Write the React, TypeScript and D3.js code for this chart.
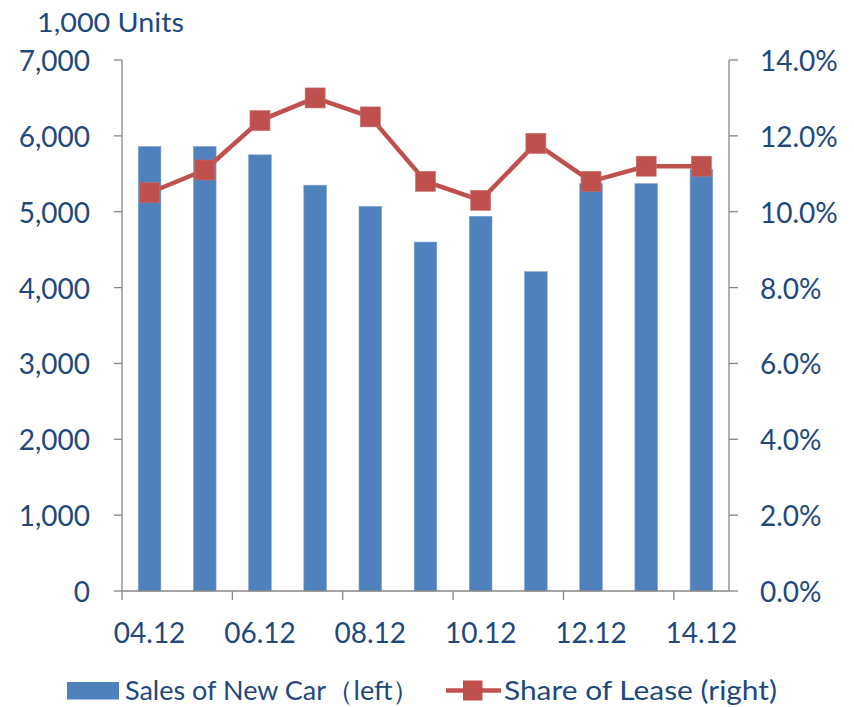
import React from "react";
import * as d3 from "d3";

const categories = ["04.12", "05.12", "06.12", "07.12", "08.12", "09.12", "10.12", "11.12", "12.12", "13.12", "14.12"];
const salesNewCar = [5860, 5860, 5750, 5350, 5070, 4600, 4940, 4210, 5370, 5370, 5560];
const shareOfLease = [10.5, 11.1, 12.4, 13.0, 12.5, 10.8, 10.3, 11.8, 10.8, 11.2, 11.2];
const leftTicks = [0, 1000, 2000, 3000, 4000, 5000, 6000, 7000];
const rightTicks = [0, 2, 4, 6, 8, 10, 12, 14];
const shownLabels = ["04.12", "06.12", "08.12", "10.12", "12.12", "14.12"];
const axisTitle = "1,000 Units";
const seriesNames = ["Sales of New Car（left）", "Share of Lease (right)"];

const W = 854;
const H = 707;
const FONT = "Lato, 'Open Sans', sans-serif";
const TEXT = "#1F497D";
const AXIS = "#868686";
const BLUE = "#4F81BD";
const RED = "#C0504D";

export default function App() {
  const left = 122;
  const right = 729;
  const y0 = 591;
  const yTop = 60;

  const x = d3.scaleBand<string>().domain(categories).range([left, right]).padding(0);
  const yL = d3.scaleLinear().domain([0, 7000]).range([y0, yTop]);
  const yR = d3.scaleLinear().domain([0, 14]).range([y0, yTop]);
  const bw = x.bandwidth() * 0.41;
  const cx = (c: string) => (x(c) as number) + x.bandwidth() / 2;

  const line = d3
    .line<number>()
    .x((_, i) => cx(categories[i]))
    .y((d) => yR(d));

  const fmtL = d3.format(",");
  const fmtR = (v: number) => v.toFixed(1) + "%";
  const ms = 20;

  return (
    <svg width={W} height={H} style={{ position: "absolute", left: 0, top: 0 }} fontFamily={FONT}>
      <rect width={W} height={H} fill="#fff" />
      <text x={37} y={31.5} fontSize={26.5} fill={TEXT} textLength={147} lengthAdjust="spacingAndGlyphs">
        {axisTitle}
      </text>

      {/* bars */}
      {salesNewCar.map((v, i) => (
        <rect
          key={i}
          x={cx(categories[i]) - bw / 2}
          y={yL(v)}
          width={bw}
          height={y0 - yL(v)}
          fill={BLUE}
          stroke="#7fa3d1"
          strokeWidth={0.6}
        />
      ))}

      {/* left axis */}
      <line x1={left} x2={left} y1={yTop} y2={y0} stroke={AXIS} strokeWidth={1.3} />
      {leftTicks.map((t) => (
        <g key={"l" + t}>
          <line x1={left - 8} x2={left} y1={yL(t)} y2={yL(t)} stroke={AXIS} strokeWidth={1.3} />
          <text x={90} y={yL(t) + 11} fontSize={28} fill={TEXT} textAnchor="end">
            {fmtL(t)}
          </text>
        </g>
      ))}

      {/* right axis */}
      <line x1={right} x2={right} y1={yTop} y2={y0} stroke={AXIS} strokeWidth={1.3} />
      {rightTicks.map((t) => (
        <g key={"r" + t}>
          <line x1={right} x2={right + 9} y1={yR(t)} y2={yR(t)} stroke={AXIS} strokeWidth={1.3} />
          <text x={760} y={yR(t) + 11} fontSize={28} fill={TEXT} textAnchor="start">
            {fmtR(t)}
          </text>
        </g>
      ))}

      {/* x axis */}
      <line x1={left} x2={right} y1={y0} y2={y0} stroke={AXIS} strokeWidth={1.3} />
      {categories.map((c, i) =>
        i % 2 === 0 ? (
          <line key={"xt" + c} x1={x(c)} x2={x(c)} y1={y0} y2={y0 + 9} stroke={AXIS} strokeWidth={1.3} />
        ) : null
      )}
      {shownLabels.map((c) => (
        <text key={"xl" + c} x={cx(c)} y={643} fontSize={28} fill={TEXT} textAnchor="middle">
          {c}
        </text>
      ))}

      {/* line series */}
      <path d={line(shareOfLease) || ""} fill="none" stroke={RED} strokeWidth={4.5} strokeLinejoin="round" />
      {shareOfLease.map((v, i) => (
        <rect
          key={"m" + i}
          x={cx(categories[i]) - ms / 2}
          y={yR(v) - ms / 2}
          width={ms}
          height={ms}
          fill={RED}
          stroke="#c9706d"
          strokeWidth={0.6}
        />
      ))}

      {/* legend */}
      <rect x={67} y={682} width={52} height={17.5} fill={BLUE} />
      <text x={125} y={700} fontSize={26.5} fill={TEXT} textLength={295} lengthAdjust="spacingAndGlyphs">
        {seriesNames[0]}
      </text>
      <line x1={446} x2={501} y1={690.5} y2={690.5} stroke={RED} strokeWidth={4.5} />
      <rect x={463} y={680.5} width={19.5} height={20} fill={RED} />
      <text x={504} y={700} fontSize={26.5} fill={TEXT} textLength={273} lengthAdjust="spacingAndGlyphs">
        {seriesNames[1]}
      </text>
    </svg>
  );
}
